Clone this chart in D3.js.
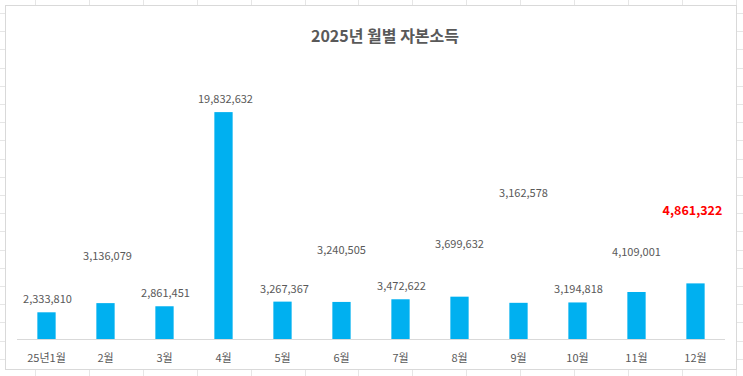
<!DOCTYPE html>
<html>
<head>
<meta charset="utf-8">
<script src="https://cdn.jsdelivr.net/npm/d3@7"></script>
<style>
  body { margin: 0; background: #fff; }
  text { font-family: "Noto Sans CJK KR", "Noto Sans", sans-serif; }
</style>
</head>
<body>
<div id="chart"></div>
<script>
// months and values (won)
var months = ["25년1월", "2월", "3월", "4월", "5월", "6월", "7월", "8월", "9월", "10월", "11월", "12월"];
var income = [2333810, 3136079, 2861451, 19832632, 3267367, 3240505, 3472622, 3699632, 3162578, 3194818, 4109001, 4861322];
// where each data label was dragged to, in won on the value axis
var labelAt = [3150000, 6900000, 3670000, 20630000, 4020000, 7430000, 4280000, 7950000, 12410000, 4020000, 7260000, 10840000];
var yTicks = [0, 25000000];

(function() {
    var width = 743, height = 376;

    var svg = d3.select("#chart").append("svg")
        .attr("width", width)
        .attr("height", height);

    // spreadsheet cells behind the chart
    var cells = svg.append("g").attr("stroke", "#e6e6e6").attr("stroke-width", 1);
    d3.range(35, width, 53.9).forEach(function(x) {
        cells.append("line").attr("x1", Math.round(x) + 0.5).attr("x2", Math.round(x) + 0.5)
            .attr("y1", 0).attr("y2", height);
    });
    d3.range(13, height, 18.2).forEach(function(y) {
        cells.append("line").attr("x1", 0).attr("x2", width)
            .attr("y1", Math.round(y) + 0.5).attr("y2", Math.round(y) + 0.5);
    });

    // chart area
    svg.append("rect")
        .attr("x", 5.5).attr("y", 5.5)
        .attr("width", 731).attr("height", 364)
        .attr("fill", "#fff")
        .attr("stroke", "#d9d9d9");

    svg.append("text")
        .attr("x", 385).attr("y", 42)
        .attr("text-anchor", "middle")
        .attr("font-size", "16px")
        .attr("font-weight", "bold")
        .attr("fill", "#595959")
        .text("2025년 월별 자본소득");

    var x = d3.scaleBand()
        .domain(months)
        .range([17, 725])
        .paddingInner(0.69)
        .paddingOuter(0.345);

    var y = d3.scaleLinear()
        .domain(d3.extent(yTicks))
        .range([339, 53]);

    svg.append("g")
        .selectAll("rect")
        .data(income)
        .enter().append("rect")
        .attr("x", (d, i) => x(months[i]))
        .attr("width", x.bandwidth())
        .attr("y", d => y(d))
        .attr("height", d => y(0) - y(d))
        .attr("fill", "#00b0f0");

    // category axis
    var xAxis = svg.append("g")
        .attr("transform", "translate(0," + y(0) + ")")
        .call(d3.axisBottom(x).tickSize(0).tickPadding(15));
    xAxis.select(".domain").attr("stroke", "#d9d9d9").attr("d", "M17,0.5H725");
    xAxis.selectAll("text")
        .attr("font-size", "11px")
        .attr("fill", "#595959")
        .style("font-family", '"Noto Sans CJK KR", sans-serif');

    var fmt = d3.format(",");
    var nudge = [1, 2, 1, 2, 2, 0, 1, 0, 5, 1, 0, -3];

    svg.append("g")
        .selectAll("text")
        .data(income)
        .enter().append("text")
        .attr("x", (d, i) => x(months[i]) + x.bandwidth() / 2 + nudge[i])
        .attr("y", (d, i) => y(labelAt[i]))
        .attr("text-anchor", "middle")
        .attr("font-size", (d, i) => i == 11 ? "12.5px" : "11px")
        .attr("font-weight", (d, i) => i == 11 ? "bold" : "normal")
        .attr("fill", (d, i) => i == 11 ? "#ff0000" : "#595959")
        .text(d => fmt(d));
})()
</script>
</body>
</html>
